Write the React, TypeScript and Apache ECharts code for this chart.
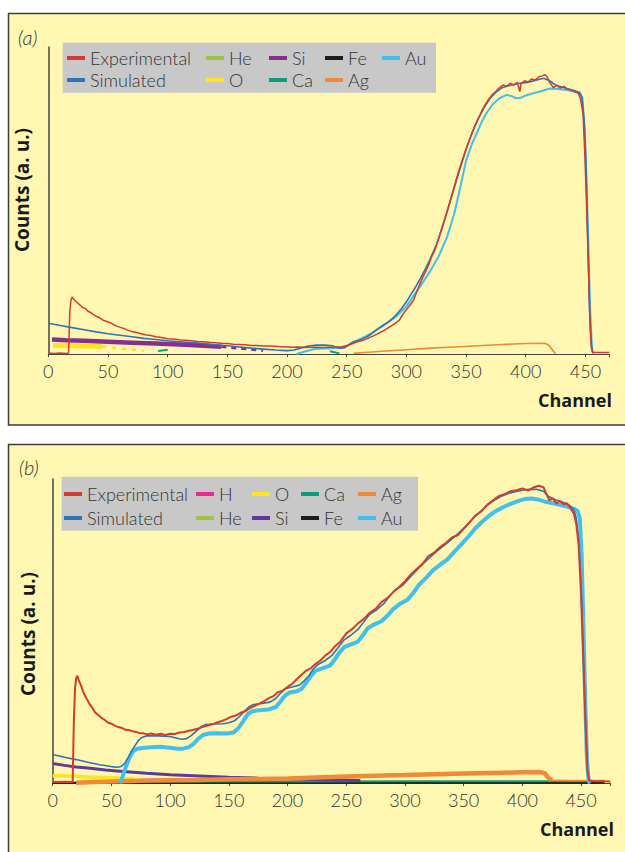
import React, { useEffect, useRef } from "react";
import * as echarts from "echarts";

// ---------- DATA (channel, counts a.u.) ----------
const xTicksA = [0, 50, 100, 150, 200, 250, 300, 350, 400, 450];

// Panel (a)
const expA: [number, number][] = [[0,0.3],[5,0.2],[10,0.3],[15,0.2],[17,0.3],[18,14],[19,17.5],[20,18.6],[21,18],[23,17.2],[25,16.5],[27,15.8],[29,15.1],[31,14.8],[33,14],[35,13.6],[37,13.1],[40,12.3],[43,11.8],[46,11],[49,10.6],[52,10.2],[55,9.5],[58,9],[61,8.6],[64,8.2],[67,7.7],[70,7.3],[74,7],[78,6.6],[82,6.2],[86,6],[90,5.6],[95,5.4],[100,5],[105,4.9],[110,4.6],[115,4.5],[120,4.3],[125,4.1],[130,4.0],[135,3.8],[140,3.7],[145,3.5],[150,3.4],[155,3.2],[160,3.1],[165,3.0],[170,2.8],[175,2.8],[180,2.6],[185,2.6],[190,2.5],[195,2.4],[200,2.3],[205,2.2],[210,2.3],[215,2.1],[220,2.2],[225,2.2],[230,2.1],[235,2.2],[240,2.3],[245,2.3],[250,2.7],[255,3.4],[260,4.1],[265,4.6],[270,5.5],[275,6.4],[280,7.4],[285,8.6],[290,9.8],[294,11],[298,13.5],[302,15.4],[306,17.5],[309,20.5],[312,23.5],[315,26],[318,28.4],[321,31.5],[324,34],[327,37.5],[330,41.5],[333,45],[336,49],[339,53],[342,57.2],[345,61],[348,64.5],[351,68],[354,71],[357,74],[360,76.5],[363,79],[366,81.2],[369,83],[372,84.5],[375,85.5],[378,86.8],[381,87.6],[384,87.3],[387,88.2],[390,87.6],[393,88.5],[395,85.5],[396,88],[399,89],[402,88.6],[405,89.6],[408,89.2],[411,90.3],[414,90.6],[416,91],[418,90.2],[420,88.5],[423,86.8],[426,87.5],[429,86.6],[432,87.2],[435,86.3],[438,86],[441,85.4],[444,84.9],[446,83],[448,78],[449.5,65],[451,48],[452.5,28],[454,8],[455,2],[456,0.6],[460,0.5],[465,0.5],[470,0.5]];
const simA: [number, number][] = [[0,10],[10,9.3],[20,8.6],[30,7.9],[40,7.2],[50,6.6],[60,6.1],[70,5.6],[80,5.1],[90,4.7],[100,4.3],[110,4.0],[120,3.7],[130,3.4],[140,3.0],[150,2.7],[160,2.3],[170,1.9],[180,1.6],[190,1.3],[200,1.1],[206,1.3],[212,2.0],[218,2.6],[225,2.9],[232,2.9],[238,2.7],[244,1.9],[248,2.0],[252,3.0],[256,4.0],[260,4.5],[264,5.0],[268,5.8],[272,7.0],[276,8.2],[280,9.2],[284,10.2],[288,11.4],[292,13],[296,14.8],[300,17],[304,19.5],[308,22],[312,24.8],[316,27.8],[320,31],[325,35.5],[330,41],[335,47.5],[340,54],[345,60.5],[350,66.5],[355,72],[360,76.5],[365,80.2],[370,83.2],[375,85.3],[380,86.7],[385,87.3],[390,87.8],[395,88.2],[400,88.4],[405,88.8],[410,89.3],[415,89.8],[420,89],[425,87.6],[430,87],[435,86.4],[440,85.9],[445,85.2],[447,83.5],[449,76],[450.5,62],[452,38],[453.5,14],[455,3],[456,0.5]];
const auA: [number, number][] = [[208,0],[215,0.8],[223,1.6],[235,1.9],[245,2.0],[250,2.6],[255,3.8],[262,5.0],[270,6.6],[278,8.6],[285,10.4],[292,12.4],[300,15.5],[307,19.5],[314,23.5],[320,27],[327,31.8],[334,38],[340,45.5],[345,54],[350,63],[355,68.5],[359,71.9],[363,75.5],[367,78.4],[372,81.2],[378,83.3],[384,84.4],[388,84],[392,83.3],[396,83.5],[400,84.2],[406,84.9],[413,85.6],[420,86.5],[427,86.3],[434,86],[440,85.6],[445,85.2],[447.5,83.5],[449.5,72],[451,55],[452.5,35],[454,14],[455.5,2],[456.5,0]];
const siA: [number, number][] = [[3,4.7],[15,4.5],[30,4.3],[50,4.0],[70,3.7],[90,3.4],[110,3.1],[130,2.7],[145,2.4]];
const siTailA: [number, number][] = [[145,2.4],[160,1.8],[180,1.1]];
const oA: [number, number][] = [[4,2.8],[20,2.7],[40,2.5],[45,2.4]];
const oTailA: [number, number][] = [[45,2.4],[60,1.8],[80,1.0]];
const caA1: [number, number][] = [[92,1.0],[100,1.4]];
const caA2: [number, number][] = [[236,0.9],[244,0.2]];
const agA: [number, number][] = [[256,0.2],[265,0.5],[280,0.9],[300,1.4],[320,1.9],[340,2.3],[360,2.7],[380,3.1],[400,3.4],[412,3.5],[417,3.4],[420,2.6],[423,1],[425,0.1]];
const heA: [number, number][] = [];
const feA: [number, number][] = [];

// Panel (b)
const expB: [number, number][] = [[0,0.3],[5,0.3],[10,0.4],[15,0.3],[17,0.4],[18,20],[19,31],[20,34.5],[21,35.3],[22,34],[24,32.2],[26,30],[28,28.3],[30,27],[32,25.6],[34,24.6],[36,23.3],[38,22.6],[41,21.6],[44,20.8],[47,19.9],[50,19.5],[53,18.9],[56,18.4],[59,18.1],[62,17.5],[65,17.4],[68,17],[71,16.8],[74,16.4],[77,16.4],[80,16],[84,16.3],[88,15.9],[92,16.2],[96,15.8],[100,16.2],[104,16.1],[108,16.6],[112,16.8],[116,17.2],[120,17.5],[124,17.9],[128,18.5],[132,18.9],[136,19.3],[140,19.9],[144,20.4],[148,21],[152,21.8],[156,22.2],[160,23.1],[164,23.6],[168,24.6],[172,25.4],[176,26.1],[180,26.9],[184,27.9],[188,28.6],[192,29.9],[196,30.4],[200,31.6],[204,32.6],[208,34.2],[212,35.6],[216,37],[220,37.8],[224,39.2],[228,40.3],[232,41.9],[236,43],[240,44.8],[245,46.5],[250,49.2],[255,50.6],[260,52.5],[265,54],[270,56],[275,57.3],[280,59.5],[285,60.8],[290,62.8],[295,64.5],[300,66.3],[305,68.6],[310,70.4],[315,72.1],[320,74.6],[325,75.8],[330,77.6],[335,79],[340,80.8],[345,81.5],[350,83.6],[355,85.7],[360,88],[365,89.3],[370,91.5],[375,93],[380,94.4],[385,95],[390,96],[395,96.3],[400,96.9],[405,96.2],[410,97.3],[414,97.8],[418,97.3],[420,95.5],[423,93],[426,93.6],[429,92],[432,92.8],[435,91.7],[438,92],[441,90.5],[444,88.5],[446,85],[448,78],[450,62],[452,40],[454,18],[455.5,4],[457,0.8],[462,0.6],[468,0.6],[475,0.5]];
const simB: [number, number][] = [[0,9.4],[10,8.5],[20,7.7],[30,6.8],[40,6.0],[50,5.4],[55,5.2],[58,5.4],[61,6.3],[64,8.2],[67,10.4],[70,12.2],[73,14],[76,15],[80,15.5],[90,15.5],[100,15.3],[105,14.8],[110,14.4],[114,14.6],[118,15.6],[122,17],[126,18.4],[130,19.2],[137,19.4],[145,19.5],[150,19.8],[155,20.5],[159,21.8],[163,23.5],[167,25],[171,25.8],[178,26.2],[185,26.6],[190,27.8],[194,29.5],[198,31],[204,31.6],[210,32.2],[214,33.5],[218,35.2],[222,37.5],[226,39],[232,40.3],[238,42],[243,44.5],[248,47],[254,48.6],[260,50.5],[265,53],[270,55.5],[276,57],[282,59],[287,61.5],[292,63.5],[298,65],[304,67.5],[310,70],[316,72.3],[322,74.5],[328,76.5],[334,78.3],[340,80.2],[346,82.3],[352,84.5],[358,87],[364,89.2],[370,91.3],[376,93],[382,94.3],[388,95.2],[394,95.8],[400,96.3],[406,96.6],[412,96.6],[418,96],[422,94.3],[428,93.2],[434,92.4],[440,91.4],[444,89.8],[446,87],[448,80],[450,65],[452,42],[454,18],[455.5,4],[457,0.5]];
const auB: [number, number][] = [[57,0],[59,1.5],[62,5],[65,8],[68,10.2],[72,11.3],[78,11.6],[85,11.8],[92,11.9],[100,11.6],[106,11.3],[111,11.3],[116,11.8],[120,12.9],[124,14.6],[128,15.8],[133,16.3],[140,16.4],[148,16.3],[154,16.6],[158,18],[162,20.2],[166,22.6],[170,23.6],[176,23.9],[184,24.2],[190,25],[194,26.8],[198,28.8],[202,29.8],[208,30.2],[212,31],[216,33],[220,35.2],[224,37],[230,37.8],[236,38.6],[240,40.5],[244,42.8],[248,44.6],[254,45.6],[260,46.5],[264,48.5],[268,50.8],[274,52.2],[280,53.2],[285,55],[290,57.2],[296,59],[302,60.2],[307,62.5],[312,65.2],[318,67.5],[324,70],[330,71.8],[336,73.5],[342,76],[348,78.5],[354,81],[360,83.8],[366,86],[372,88],[378,89.6],[384,90.8],[390,91.8],[396,92.7],[402,93.4],[408,93.6],[414,93.2],[420,92.5],[426,92],[432,91.5],[438,90.9],[444,90.2],[447,89.5],[449,87],[450.5,75],[452,52],[453.5,28],[455,8],[456.5,0.5],[458,0]];
const siB: [number, number][] = [[0,6.4],[10,5.8],[20,5.3],[30,4.9],[45,4.3],[60,3.8],[80,3.2],[100,2.7],[125,2.3],[150,1.9],[175,1.6],[200,1.4],[230,1.1],[262,0.8]];
const oB: [number, number][] = [[0,2.4],[10,2.3],[20,2.2],[30,2.0],[40,1.9],[50,1.7],[60,1.5],[70,1.3]];
const agB: [number, number][] = [[20,0.1],[40,0.4],[60,0.6],[80,0.8],[100,0.9],[125,1.0],[150,1.2],[175,1.3],[200,1.5],[225,1.8],[250,2.1],[275,2.4],[300,2.6],[325,2.9],[350,3.1],[375,3.3],[400,3.5],[415,3.6],[419,3.2],[422,1.8],[425,0.9]];
const agTailB: [number, number][] = [[425,0.9],[440,0.8],[455,0.8],[470,0.8]];
const caB: [number, number][] = [[55,0.5],[100,0.5],[200,0.5],[300,0.6],[400,0.6],[455,0.6]];
const feB: [number, number][] = [[0,0.1],[470,0.1]];
const hB: [number, number][] = [];
const heB: [number, number][] = [];

// ---------- STYLE ----------
const C = {
  exp: "#D63B2F", sim: "#2D74B9", au: "#41C0EE", siA: "#8A2E8E", siB: "#5E3B9A",
  he: "#9DC43C", o: "#FFE422", ca: "#0F9C7B", fe: "#1C1C1C", ag: "#F08A35", h: "#E72C8E",
};
const FONT = 'Lato, "Open Sans", sans-serif';
const BOLD_FONT = '"Open Sans", Lato, sans-serif';
const TXT = "#333333";

export default function App() {
  const ref = useRef<HTMLDivElement>(null);
  useEffect(() => {
    if (!ref.current) return;
    const chart = echarts.init(ref.current, null, { renderer: "svg" });

    const line = (name: string, data: any[], color: string, width: number, axis: number, extra: any = {}) => ({
      type: "line", name, data, xAxisIndex: axis, yAxisIndex: axis,
      showSymbol: false, symbol: "none", silent: true,
      lineStyle: { color, width, ...(extra.lineStyle || {}) },
      itemStyle: { color },
      z: extra.z ?? 2,
    });

    const legendCol = (left: number, top: number, gap: number, names: { name: string; color: string }[]) => ({
      orient: "vertical", left, top, padding: 0, itemGap: gap,
      itemWidth: 18, itemHeight: 4, icon: "rect", selectedMode: false,
      textStyle: { fontFamily: FONT, fontWeight: 300, fontSize: 18, color: TXT, lineHeight: 20 },
      data: names.map((n) => ({ name: n.name, itemStyle: { color: n.color } })),
    });

    const xAx = (grid: number, max: number) => ({
      type: "value", gridIndex: grid, min: 0, max, interval: 50,
      axisLine: { show: true, lineStyle: { color: "#444", width: 1.2 } },
      axisTick: { show: true, length: 3, lineStyle: { color: "#444" } },
      axisLabel: {
        margin: 8, fontFamily: FONT, fontWeight: 300, fontSize: 18, color: TXT,
        formatter: (v: number) => (xTicksA.includes(v) ? String(v) : ""),
      },
      splitLine: { show: false },
    });
    const yAx = (grid: number) => ({
      type: "value", gridIndex: grid, min: 0, max: 100,
      axisLine: { show: true, lineStyle: { color: "#444", width: 1.5 } },
      axisTick: { show: false }, axisLabel: { show: false }, splitLine: { show: false },
    });

    const option: any = {
      animation: false,
      backgroundColor: "#ffffff",
      grid: [
        { left: 48.3, top: 47, width: 561, height: 307, outerBoundsMode: "none" },
        { left: 52.7, top: 479, width: 557.7, height: 304, outerBoundsMode: "none" },
      ],
      xAxis: [xAx(0, 470), xAx(1, 475)],
      yAxis: [yAx(0), yAx(1)],
      legend: [
        legendCol(67, 48, 2, [{ name: "Experimental", color: C.exp }, { name: "Simulated", color: C.sim }]),
        legendCol(206, 48, 2, [{ name: "He", color: C.he }, { name: "O", color: C.o }]),
        legendCol(269, 48, 2, [{ name: "Si", color: C.siA }, { name: "Ca", color: C.ca }]),
        legendCol(325, 48, 2, [{ name: "Fe", color: C.fe }, { name: "Ag", color: C.ag }]),
        legendCol(382, 48, 2, [{ name: "Au", color: C.au }]),
        legendCol(64, 484, 4, [{ name: "Experimental", color: C.exp }, { name: "Simulated", color: C.sim }]),
        legendCol(196, 484, 4, [{ name: "H", color: C.h }, { name: "He", color: C.he }]),
        legendCol(252, 484, 4, [{ name: "O", color: C.o }, { name: "Si", color: C.siB }]),
        legendCol(301, 484, 4, [{ name: "Ca", color: C.ca }, { name: "Fe", color: C.fe }]),
        legendCol(358, 484, 4, [{ name: "Ag", color: C.ag }, { name: "Au", color: C.au }]),
      ],
      graphic: [
        { type: "rect", z: -10, shape: { x: 8.5, y: 13.5, width: 640, height: 411.5 }, style: { fill: "#FFF7B2", stroke: "#3d3d3d", lineWidth: 1.5 } },
        { type: "rect", z: -10, shape: { x: 8.5, y: 444.5, width: 640, height: 420 }, style: { fill: "#FFF7B2", stroke: "#3d3d3d", lineWidth: 1.5 } },
        { type: "rect", z: -5, shape: { x: 62.7, y: 42.7, width: 373.3, height: 50 }, style: { fill: "#C8C8C8" } },
        { type: "rect", z: -5, shape: { x: 61.7, y: 476.7, width: 356.3, height: 54 }, style: { fill: "#C8C8C8" } },
        { type: "text", z: 10, x: 18, y: 37, style: { text: "(a)", fontFamily: FONT, fontWeight: 300, fontStyle: "italic", fontSize: 20, fill: TXT, verticalAlign: "middle" } },
        { type: "text", z: 10, x: 19, y: 467, style: { text: "(b)", fontFamily: FONT, fontWeight: 300, fontStyle: "italic", fontSize: 20, fill: TXT, verticalAlign: "middle" } },
        { type: "text", z: 10, x: 22, y: 190, rotation: Math.PI / 2, style: { text: "Counts (a. u.)", fontFamily: BOLD_FONT, fontWeight: "bold", fontSize: 19, fill: "#1a1a1a", align: "center", verticalAlign: "middle" } },
        { type: "text", z: 10, x: 28, y: 634, rotation: Math.PI / 2, style: { text: "Counts (a. u.)", fontFamily: BOLD_FONT, fontWeight: "bold", fontSize: 19, fill: "#1a1a1a", align: "center", verticalAlign: "middle" } },
        { type: "text", z: 10, x: 612, y: 400, style: { text: "Channel", fontFamily: BOLD_FONT, fontWeight: "bold", fontSize: 18, fill: "#1a1a1a", align: "right", verticalAlign: "middle" } },
        { type: "text", z: 10, x: 614, y: 829, style: { text: "Channel", fontFamily: BOLD_FONT, fontWeight: "bold", fontSize: 18, fill: "#1a1a1a", align: "right", verticalAlign: "middle" } },
      ],
      series: [
        // panel (a)
        line("He", heA, C.he, 2, 0),
        line("Fe", feA, C.fe, 2, 0),
        line("O", oA, C.o, 5, 0),
        line("O", oTailA, C.o, 2.5, 0, { lineStyle: { type: [4, 6] } }),
        line("Si", siA, C.siA, 4.5, 0),
        line("Si", siTailA, C.siA, 2.5, 0, { lineStyle: { type: [5, 5] } }),
        line("Ca", caA1, C.ca, 2, 0),
        line("Ca", caA2, C.ca, 2, 0),
        line("Ag", agA, C.ag, 1.6, 0),
        line("Au", auA, C.au, 2, 0, { z: 3 }),
        line("Simulated", simA, C.sim, 1.6, 0, { z: 4 }),
        line("Experimental", expA, C.exp, 1.5, 0, { z: 5 }),
        // panel (b)
        line("H", hB, C.h, 2, 1),
        line("He", heB, C.he, 2, 1),
        line("Fe", feB, C.fe, 2, 1),
        line("Ca", caB, C.ca, 2, 1),
        line("O", oB, C.o, 3.5, 1),
        line("Si", siB, C.siB, 3, 1),
        line("Ag", agB, C.ag, 4.5, 1),
        line("Ag", agTailB, C.ag, 1.5, 1),
        line("Au", auB, C.au, 4, 1, { z: 3 }),
        line("Simulated", simB, C.sim, 1.6, 1, { z: 4 }),
        line("Experimental", expB, C.exp, 2, 1, { z: 5 }),
      ],
    };
    chart.setOption(option);
    return () => chart.dispose();
  }, []);

  return (
    <div
      ref={ref}
      style={{ position: "fixed", left: 0, top: 0, width: 625, height: 852, background: "#fff" }}
    />
  );
}
